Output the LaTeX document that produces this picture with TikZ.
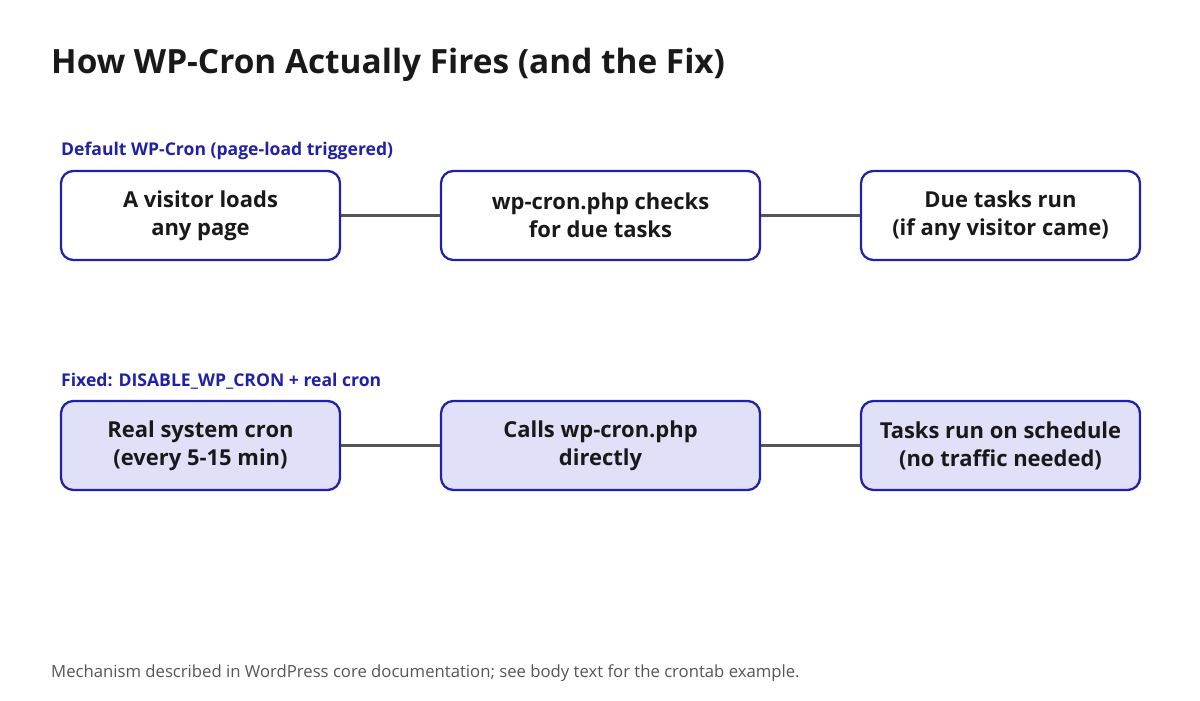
\documentclass[tikz,border=0pt]{standalone}
\usepackage{fontspec}
\setmainfont{Open Sans}
\usetikzlibrary{positioning}
\definecolor{boxblue}{HTML}{2020A8}
\definecolor{boxfill}{HTML}{E0E0F8}
\definecolor{linkgray}{HTML}{555555}
\definecolor{notegray}{HTML}{555555}
\begin{document}
\begin{tikzpicture}[
    stage/.style={draw=boxblue, line width=1.3pt, rounded corners=7pt, minimum height=1.78cm,
        align=center, font=\fontsize{12.5}{16}\selectfont\bfseries, text=black!90},
    fixed/.style={stage, fill=boxfill},
    link/.style={draw=linkgray, line width=1.3pt},
    rowlabel/.style={anchor=west, text=boxblue, font=\fontsize{10}{12}\selectfont\bfseries}
]
    \useasboundingbox (0,0) rectangle (24,14);
    \node[anchor=west, font=\fontsize{19}{22}\selectfont\bfseries, text=black!90] (title) at (0.9,12.7) {How WP-Cron Actually Fires (and the Fix)};

    \node[rowlabel] (deflabel) at (1.1,10.98) {Default WP-Cron (page-load triggered)};
    \node[stage, minimum width=5.58cm] at (4.01,9.69)(visit){A visitor loads\\any page};
    \node[stage, minimum width=6.38cm] at (12.01,9.69)(check){wp-cron.php checks\\for due tasks};
    \node[stage, minimum width=5.58cm] at (20.01,9.69)(due){Due tasks run\\(if any visitor came)};

    \node[rowlabel] (fixlabel) at (1.1,6.38) {Fixed: DISABLE\_WP\_CRON + real cron};
    \node[fixed, minimum width=5.58cm] at (4.01,5.09)(syscron){Real system cron\\(every 5-15 min)};
    \node[fixed, minimum width=6.38cm] at (12.01,5.09)(calls){Calls wp-cron.php\\directly};
    \node[fixed, minimum width=5.58cm] at (20.01,5.09)(sched){Tasks run on schedule\\(no traffic needed)};

    \path[link]
    (visit)--(check)
    (check)--(due)
    (syscron)--(calls)
    (calls)--(sched)
    ;

    \node[anchor=west, text=notegray, font=\fontsize{9.5}{11}\selectfont] (note) at (0.9,0.54) {Mechanism described in WordPress core documentation; see body text for the crontab example.};
\end{tikzpicture}
\end{document}
